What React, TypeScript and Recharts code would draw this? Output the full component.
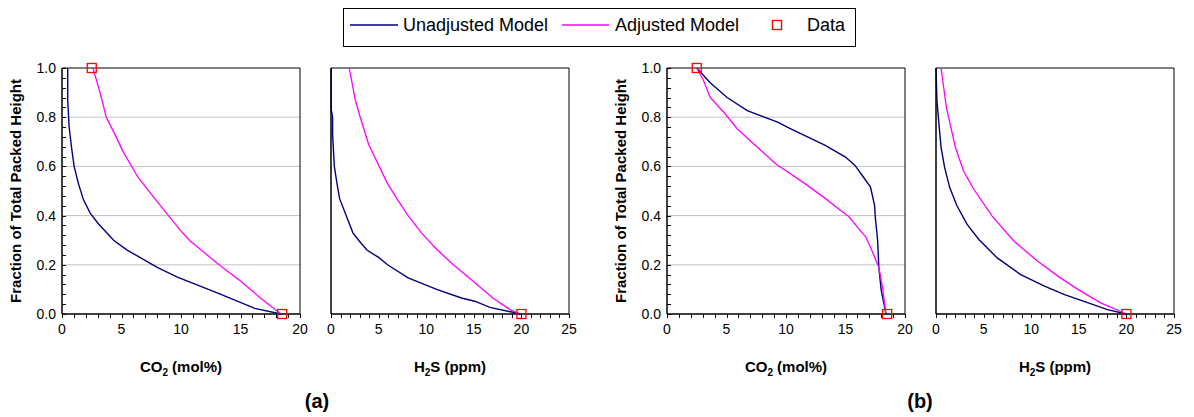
import React from 'react';
import {
  ComposedChart,
  Line,
  Scatter,
  XAxis,
  YAxis,
  CartesianGrid,
  ReferenceArea,
} from 'recharts';

type Pt = { x: number; y: number };

const toPts = (rows: number[][]): Pt[] => rows.map(([x, y]) => ({ x, y }));

// (a) CO2 profile
const aCo2Unadjusted = toPts([
  [0.48, 1.0], [0.48, 0.87], [0.6, 0.76], [0.82, 0.67], [1.02, 0.6], [1.38, 0.53],
  [1.8, 0.465], [2.37, 0.41], [3.0, 0.37], [4.34, 0.3], [5.47, 0.26], [8.0, 0.19],
  [9.7, 0.15], [13.1, 0.085], [16.2, 0.023], [18.4, 0.0],
]);
const aCo2Adjusted = toPts([
  [2.6, 1.0], [3.2, 0.9], [3.72, 0.8], [4.5, 0.725], [5.13, 0.66], [6.4, 0.555],
  [7.73, 0.473], [10.0, 0.337], [10.8, 0.296], [13.2, 0.2], [15.1, 0.13],
  [16.8, 0.06], [18.4, 0.0],
]);
const aCo2Data = toPts([[2.5, 1.0], [18.5, 0.0]]);

// (a) H2S profile
const aH2sUnadjusted = toPts([
  [0.02, 1.0], [0.03, 0.83], [0.17, 0.8], [0.17, 0.73], [0.35, 0.6], [0.63, 0.53],
  [0.9, 0.47], [1.5, 0.41], [2.3, 0.33], [2.9, 0.3], [3.77, 0.26], [5.0, 0.23],
  [5.94, 0.2], [8.1, 0.147], [11.1, 0.1], [13.7, 0.065], [15.1, 0.052],
  [16.7, 0.027], [19.1, 0.007], [19.9, 0.0],
]);
const aH2sAdjusted = toPts([
  [1.92, 1.0], [2.55, 0.87], [3.07, 0.8], [3.95, 0.69], [5.06, 0.6], [5.94, 0.53],
  [6.9, 0.47], [8.1, 0.4], [9.5, 0.33], [11.1, 0.263], [12.85, 0.2], [14.9, 0.134],
  [17.0, 0.065], [18.8, 0.018], [19.9, 0.0],
]);
const aH2sData = toPts([[20, 0.0]]);

// (b) CO2 profile
const bCo2Unadjusted = toPts([
  [2.5, 1.0], [3.63, 0.94], [5.05, 0.88], [6.75, 0.827], [9.3, 0.78], [10.4, 0.753],
  [13.3, 0.685], [15.0, 0.638], [15.8, 0.604], [16.5, 0.557], [17.1, 0.516],
  [17.45, 0.44], [17.5, 0.395], [17.7, 0.3], [17.8, 0.19], [18.0, 0.097], [18.4, 0.0],
]);
const bCo2Adjusted = toPts([
  [2.5, 1.0], [3.06, 0.95], [3.63, 0.88], [4.77, 0.82], [5.9, 0.753], [7.32, 0.69],
  [9.16, 0.61], [11.6, 0.53], [13.3, 0.47], [14.4, 0.428], [15.3, 0.395],
  [16.1, 0.347], [16.7, 0.314], [17.2, 0.26], [17.8, 0.19], [18.1, 0.11], [18.4, 0.0],
]);
const bCo2Data = toPts([[2.5, 1.0], [18.5, 0.0]]);

// (b) H2S profile
const bH2sUnadjusted = toPts([
  [0, 1.0], [0.1, 0.867], [0.28, 0.785], [0.53, 0.677], [0.91, 0.595], [1.44, 0.514],
  [2.2, 0.44], [3.27, 0.364], [4.5, 0.303], [6.43, 0.228], [8.9, 0.16], [11.4, 0.113],
  [13.5, 0.079], [16.0, 0.045], [18.0, 0.018], [20.0, 0.0],
]);
const bH2sAdjusted = toPts([
  [0.53, 1.0], [1.09, 0.84], [2.04, 0.677], [2.9, 0.58], [3.97, 0.507], [5.9, 0.398],
  [8.2, 0.296], [10.65, 0.215], [12.8, 0.154], [14.9, 0.1], [17.3, 0.045], [20.0, 0.0],
]);
const bH2sData = toPts([[20, 0.0]]);

// axis ticks
const co2Ticks = [0, 1, 2, 3, 4, 5, 6, 7, 8, 9, 10, 11, 12, 13, 14, 15, 16, 17, 18, 19, 20];
const h2sTicks = [...co2Ticks, 21, 22, 23, 24, 25];
const xLabelled = [0, 5, 10, 15, 20, 25];
const yTicks = [
  0, 0.04, 0.08, 0.12, 0.16, 0.2, 0.24, 0.28, 0.32, 0.36, 0.4, 0.44, 0.48, 0.52,
  0.56, 0.6, 0.64, 0.68, 0.72, 0.76, 0.8, 0.84, 0.88, 0.92, 0.96, 1.0,
];
const yLabelled = [0, 0.2, 0.4, 0.6, 0.8, 1.0];
const gridValues = [0.2, 0.4, 0.6, 0.8];

const NAVY = '#000080';
const MAGENTA = '#ff00ff';
const FONT = '"Liberation Sans", Arial, sans-serif';

// plot frame inside every panel svg
const PLOT_LEFT = 62;
const PLOT_BOTTOM = 314;
const TICK_LEN = 4;

const DataSquare = (props: any) => {
  const { cx, cy } = props;
  if (cx == null || cy == null) return null;
  return <rect x={cx - 4.5} y={cy - 4.5} width={9} height={9} fill="none" stroke="#ff0000" strokeWidth={1.3} />;
};

// x ticks hang below the axis, every unit; labels every 5
const XTick = (props: any) => {
  const { x, payload } = props;
  const v = payload.value;
  const px = Math.round(x) + 0.5;
  return (
    <g>
      <path d={`M${px},${PLOT_BOTTOM}V${PLOT_BOTTOM + TICK_LEN}`} stroke="#000" strokeWidth={1} fill="none" />
      {xLabelled.includes(v) && (
        <text x={x} y={PLOT_BOTTOM + 20} textAnchor="middle" fontSize={14} fontFamily={FONT} fill="#000">
          {v}
        </text>
      )}
    </g>
  );
};

// y ticks point into the plot; labels every 0.2
const YTick = (props: any) => {
  const { y, payload } = props;
  const v = payload.value;
  const major = yLabelled.some((t) => Math.abs(t - v) < 1e-6);
  const py = Math.round(y) + 0.5;
  return (
    <g>
      <path d={`M${PLOT_LEFT},${py}H${PLOT_LEFT + TICK_LEN}`} stroke="#000" strokeWidth={1} fill="none" />
      {major && (
        <text x={PLOT_LEFT - 6} y={y + 5} textAnchor="end" fontSize={14} fontFamily={FONT} fill="#000">
          {v.toFixed(1)}
        </text>
      )}
    </g>
  );
};

const XTitle = (props: any) => {
  const { viewBox, main, sub, rest } = props;
  if (!viewBox) return null;
  return (
    <text x={viewBox.x + viewBox.width / 2} y={viewBox.y + 58} textAnchor="middle" fontSize={15} fontWeight="bold" fontFamily={FONT} fill="#000">
      <tspan>{main}</tspan>
      <tspan fontSize={10} dy={4}>{sub}</tspan>
      <tspan dy={-4}>{rest}</tspan>
    </text>
  );
};

const YTitle = (props: any) => {
  const { viewBox } = props;
  if (!viewBox) return null;
  const cx = viewBox.x - 1;
  const cy = viewBox.y + viewBox.height / 2;
  return (
    <text x={cx} y={cy} transform={`rotate(-90 ${cx} ${cy})`} textAnchor="middle" fontSize={15} fontWeight="bold" fontFamily={FONT} fill="#000">
      Fraction of Total Packed Height
    </text>
  );
};

interface PanelProps {
  left: number;
  xMax: number;
  xTicks: number[];
  showY: boolean;
  unadjusted: Pt[];
  adjusted: Pt[];
  data: Pt[];
  main: string;
  sub: string;
  rest: string;
}

const Panel = ({ left, xMax, xTicks, showY, unadjusted, adjusted, data, main, sub, rest }: PanelProps) => (
  <div style={{ position: 'absolute', left, top: 0 }}>
    <ComposedChart width={310} height={417} margin={{ top: 68, right: 10, bottom: 73, left: 22 }}>
      <CartesianGrid vertical={false} horizontalValues={gridValues} stroke="#c0c0c0" />
      <XAxis
        type="number"
        dataKey="x"
        domain={[0, xMax]}
        ticks={xTicks}
        interval={0}
        height={30}
        stroke="#000"
        tickLine={false}
        tick={<XTick />}
        label={<XTitle main={main} sub={sub} rest={rest} />}
      />
      <YAxis
        type="number"
        dataKey="y"
        domain={[0, 1]}
        ticks={yTicks}
        interval={0}
        width={40}
        stroke="#000"
        tickLine={false}
        tick={showY ? <YTick /> : false}
        label={showY ? <YTitle /> : undefined}
      />
      <ReferenceArea x1={0} x2={xMax} y1={0} y2={1} fill="none" stroke="#000" strokeWidth={1} />
      <Line data={unadjusted} dataKey="y" type="linear" stroke={NAVY} strokeWidth={1.4} dot={false} isAnimationActive={false} />
      <Line data={adjusted} dataKey="y" type="linear" stroke={MAGENTA} strokeWidth={1.3} dot={false} isAnimationActive={false} />
      <Scatter data={data} dataKey="y" shape={<DataSquare />} isAnimationActive={false} />
    </ComposedChart>
  </div>
);

const LegendBox = () => (
  <svg width={1194} height={60} style={{ position: 'absolute', left: 0, top: 0 }}>
    <rect x={343.5} y={8.5} width={512} height={38} fill="#fff" stroke="#000" strokeWidth={1} />
    <line x1={350} y1={25} x2={398} y2={25} stroke={NAVY} strokeWidth={1.4} />
    <text x={403} y={31} fontSize={18} fontFamily={FONT} fill="#000">Unadjusted Model</text>
    <line x1={562} y1={25} x2={609} y2={25} stroke={MAGENTA} strokeWidth={1.4} />
    <text x={615} y={31} fontSize={18} fontFamily={FONT} fill="#000">Adjusted Model</text>
    <rect x={772.5} y={20.5} width={9} height={9} fill="none" stroke="#ff0000" strokeWidth={1.4} />
    <text x={807} y={31} fontSize={18} fontFamily={FONT} fill="#000">Data</text>
  </svg>
);

const PartLabels = () => (
  <svg width={1194} height={417} style={{ position: 'absolute', left: 0, top: 0, pointerEvents: 'none' }}>
    <text x={317} y={408} textAnchor="middle" fontSize={20} fontWeight="bold" fontFamily={FONT} fill="#000">(a)</text>
    <text x={920} y={408} textAnchor="middle" fontSize={20} fontWeight="bold" fontFamily={FONT} fill="#000">(b)</text>
  </svg>
);

export default function App() {
  return (
    <div style={{ position: 'absolute', left: 0, top: 0, width: 1194, height: 417, background: '#fff', fontFamily: FONT }}>
      <Panel left={0} xMax={20} xTicks={co2Ticks} showY unadjusted={aCo2Unadjusted} adjusted={aCo2Adjusted} data={aCo2Data} main="CO" sub="2" rest=" (mol%)" />
      <Panel left={269} xMax={25} xTicks={h2sTicks} showY={false} unadjusted={aH2sUnadjusted} adjusted={aH2sAdjusted} data={aH2sData} main="H" sub="2" rest="S (ppm)" />
      <Panel left={605} xMax={20} xTicks={co2Ticks} showY unadjusted={bCo2Unadjusted} adjusted={bCo2Adjusted} data={bCo2Data} main="CO" sub="2" rest=" (mol%)" />
      <Panel left={874} xMax={25} xTicks={h2sTicks} showY={false} unadjusted={bH2sUnadjusted} adjusted={bH2sAdjusted} data={bH2sData} main="H" sub="2" rest="S (ppm)" />
      <LegendBox />
      <PartLabels />
    </div>
  );
}
